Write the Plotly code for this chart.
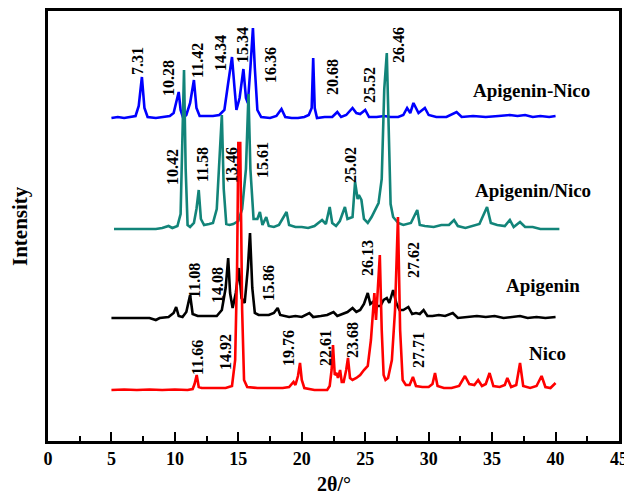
import plotly.graph_objects as go

# ---------------- data (2θ in degrees, intensity above each trace's own baseline) ----------------
nico_x = [5.0, 6.0, 7.0, 8.0, 9.0, 10.0, 11.0, 11.4, 11.55, 11.72, 11.88, 12.1, 13.0, 14.0, 14.5, 14.75, 14.9, 15.0,
          15.15, 15.3, 15.45, 15.7, 16.5, 17.5, 18.5, 19.0, 19.35, 19.5, 19.7, 19.86, 20.0, 20.2, 21.0, 22.0, 22.2,
          22.35, 22.46, 22.6, 22.75, 22.85, 23.02, 23.15, 23.3, 23.5, 23.64, 23.8, 24.0, 24.3, 24.6, 24.9, 25.2,
          25.45, 25.6, 25.72, 25.85, 25.95, 26.15, 26.3, 26.45, 26.6, 26.8, 27.1, 27.35, 27.58, 27.75, 27.95, 28.2,
          28.5, 28.76, 29.0, 29.5, 30.0, 30.3, 30.5, 30.7, 31.2, 31.8, 32.4, 32.86, 33.2, 33.6, 33.9, 34.2, 34.5,
          34.8, 35.1, 35.6, 36.0, 36.2, 36.5, 36.9, 37.2, 37.45, 38.0, 38.5, 38.9, 39.2, 39.6, 40.0]
nico_y = [0, 0.5, 0, 0.5, 0, 0.5, 0, 1, 6, 15, 3, 2, 2, 2, 4, 30, 120, 247,
          247, 80, 10, 3, 2, 2, 2, 3, 8, 5, 14, 27, 10, 2, 0, 0, 4,
          20, 45, 15, 17, 12, 20, 8, 8, 20, 32, 12, 10, 12, 15, 20, 24,
          50, 80, 97, 70, 90, 135, 60, 15, 10, 12, 30, 80, 173, 60, 10, 5,
          5, 13, 4, 3, 3, 6, 17, 4, 2, 2, 4, 14, 6, 5, 10, 4, 6,
          17, 4, 3, 5, 12, 3, 5, 27, 4, 2, 4, 14, 3, 2, 7]

apigenin_x = [5.0, 6.0, 7.0, 8.0, 8.5, 8.8, 9.5, 9.9, 10.1, 10.3, 10.6, 10.9, 11.2, 11.4, 11.8, 12.5, 13.3, 13.7,
              14.0, 14.2, 14.35, 14.55, 14.8, 15.05, 15.25, 15.5, 15.75, 15.92, 16.1, 16.3, 16.6, 17.0, 17.4, 17.8,
              18.1, 18.3, 19.0, 19.5, 20.0, 20.6, 20.9, 21.5, 22.0, 22.5, 22.8, 23.2, 23.6, 24.0, 24.3, 24.6, 24.9,
              25.2, 25.4, 25.6, 25.9, 26.2, 26.45, 26.7, 26.9, 27.2, 27.45, 27.7, 28.0, 28.4, 28.7, 29.0, 29.3, 29.6,
              29.9, 30.3, 30.8, 31.3, 31.9, 32.3, 33.0, 33.8, 34.5, 35.2, 35.9, 36.5, 37.2, 37.8, 38.5, 39.2, 40.0]
apigenin_y = [0, 0, 0.5, 0, -2, 0, 1, 5, 11, 2, 1, 6, 23, 4, 2, 2, 2, 8,
              30, 60, 25, 10, 25, 50, 20, 15, 50, 85, 30, 5, 3, 3, 3, 5,
              10, 3, 1, 2, 1, 5, 1, 2, 3, 6, 2, 4, 6, 10, 6, 8, 14,
              25, 14, 16, 12, 12, 18, 20, 15, 28, 15, 8, 8, 11, 4, 5, 4, 8,
              2, 2, 3, 2, 5, 0, 1, 2, 1, 2, 0, 1, 2, 0, 1, 0, 1]

mix_x = [5.2, 6.5, 7.5, 8.5, 9.0, 9.5, 9.8, 10.2, 10.45, 10.6, 10.72, 10.85, 11.0, 11.2, 11.5, 11.7, 11.88, 12.05,
         12.3, 12.7, 13.0, 13.3, 13.55, 13.7, 13.85, 14.05, 14.3, 14.6, 15.0, 15.3, 15.6, 15.8, 15.95, 16.2, 16.5,
         16.7, 16.9, 17.2, 17.4, 17.8, 18.2, 18.8, 19.0, 19.5, 20.0, 20.5, 21.0, 21.6, 21.9, 22.2, 22.4, 22.7,
         23.0, 23.4, 23.6, 24.0, 24.2, 24.4, 24.5, 24.7, 24.9, 25.2, 25.5, 25.8, 26.05, 26.3, 26.5, 26.7, 26.85,
         27.0, 27.2, 27.6, 28.0, 28.6, 29.1, 29.3, 29.7, 30.4, 31.0, 31.6, 32.0, 32.3, 32.9, 33.5, 34.0, 34.6,
         34.9, 35.4, 36.0, 36.4, 36.7, 37.2, 37.6, 38.2, 38.8, 39.5, 40.3]
mix_y = [0, 0, 0.5, 0, 1, 3, 1, 3, 15, 100, 159, 60, 4, 2, 6, 20, 39, 10,
         4, 5, 6, 20, 80, 114, 40, 5, 4, 5, 8, 20, 60, 135, 60, 10, 10,
         17, 4, 12, 3, 2, 4, 17, 4, 2, 2, 1, 3, 9, 5, 22, 6, 3,
         8, 22, 10, 12, 47, 30, 34, 29, 10, 6, 12, 19, 26, 50, 140, 176, 100,
         25, 12, 6, 4, 6, 19, 4, 3, 2, 4, 4, 9, 3, 1, 3, 5, 22,
         6, 4, 3, 9, 2, 7, 2, 2, 0, 0, 0]

cocrystal_x = [5.0, 5.5, 6.0, 6.5, 6.9, 7.15, 7.4, 7.6, 7.85, 8.5, 9.0, 9.6, 9.9, 10.1, 10.3, 10.45, 10.65, 10.9,
               11.2, 11.5, 11.7, 11.95, 12.5, 13.0, 13.5, 13.9, 14.2, 14.5, 14.7, 14.85, 15.1, 15.4, 15.6, 15.75,
               15.95, 16.15, 16.3, 16.5, 16.8, 17.5, 18.0, 18.4, 18.7, 19.2, 19.7, 20.2, 20.55, 20.78, 20.9, 21.02,
               21.2, 21.8, 22.4, 22.8, 23.1, 23.5, 24.0, 24.3, 24.6, 25.0, 25.3, 25.9, 26.5, 27.0, 27.6, 28.0, 28.3,
               28.55, 28.8, 29.2, 29.7, 30.0, 30.6, 31.4, 32.2, 32.6, 33.5, 34.5, 35.5, 36.4, 37.0, 37.6, 38.2, 38.8,
               39.5, 40.0]
cocrystal_y = [0, 1, 0, 1, 2, 12, 41, 10, 1, 0, 1, 2, 5, 15, 26, 8, 0, 3,
               15, 38, 10, 2, 2, 2, 3, 8, 35, 61, 30, 8, 20, 49, 20, 15,
               50, 90, 50, 8, 1, 0, 2, 9, 1, 0, 0, 1, 3, 10, 60, 10,
               0, 1, 1, 6, 1, 3, 10, 5, 4, 8, 1, 1, 2, 1, 1, 3, 10,
               5, 15, 5, 10, 3, 1, 1, 6, 1, 2, 1, 2, 3, 2, 3, 1, 2,
               1, 2]

series_names = ["Apigenin-Nico", "Apigenin", "Apigenin/Nico", "Nico"]
series_offsets = [323, 123, 212, 51]

# peak labels: (2θ position, height, text)
cocrystal_labels = [(7.01, 380, "7.31"), (9.46, 363, "10.28"), (11.74, 381, "11.42"), (13.55, 388, "14.34"),
                    (15.29, 396, "15.34"), (17.49, 376, "16.36"), (22.38, 364, "20.68"), (25.3, 356, "25.52"),
                    (27.58, 396, "26.46")]
mix_labels = [(9.77, 274, "10.42"), (12.14, 276, "11.58"), (14.42, 276, "13.46"), (16.86, 281, "15.61"),
              (23.8, 276, "25.02")]
apigenin_labels = [(11.5, 161, "11.08"), (13.32, 156, "14.08"), (17.34, 158, "15.86"), (25.14, 183, "26.13"),
                   (28.76, 181, "27.62")]
nico_labels = [(11.74, 84, "11.66"), (13.95, 89, "14.92"), (18.91, 93, "19.76"), (21.83, 93, "22.61"),
               (23.96, 101, "23.68"), (29.16, 91, "27.71")]
name_labels = [(38.14, 351, "Apigenin-Nico"), (38.22, 251, "Apigenin/Nico"), (39.0, 156, "Apigenin"),
               (39.4, 88, "Nico")]

x_ticks = [0, 5, 10, 15, 20, 25, 30, 35, 40, 45]

# ---------------- figure ----------------
FONT = "Liberation Serif, Times New Roman, serif"
fig = go.Figure()

traces = [
    (cocrystal_x, cocrystal_y, series_offsets[0], "#0000FF", series_names[0]),
    (apigenin_x, apigenin_y, series_offsets[1], "#000000", series_names[1]),
    (mix_x, mix_y, series_offsets[2], "#128479", series_names[2]),
    (nico_x, nico_y, series_offsets[3], "#FF0000", series_names[3]),
]
for xs, ys, off, col, nm in traces:
    fig.add_trace(go.Scatter(x=xs, y=[v + off for v in ys], mode="lines", name=nm,
                             line=dict(color=col, width=2.6), showlegend=False))

for lst in (cocrystal_labels, mix_labels, apigenin_labels, nico_labels):
    for x, y, t in lst:
        fig.add_annotation(x=x, y=y, text=t, textangle=-90, showarrow=False,
                           font=dict(family=FONT, size=16, color="black", weight="bold"))
for x, y, t in name_labels:
    fig.add_annotation(x=x, y=y, text=t, showarrow=False,
                       font=dict(family=FONT, size=19, color="black", weight="bold"))

# axis titles
fig.add_annotation(xref="paper", yref="paper", x=0.5, y=0, yshift=-43, yanchor="middle", text="2θ/°",
                   showarrow=False, font=dict(family=FONT, size=20, color="black", weight="bold"))
fig.add_annotation(xref="paper", yref="paper", x=0, y=0.5, xshift=-28, xanchor="center", yanchor="middle",
                   text="Intensity", textangle=-90, showarrow=False,
                   font=dict(family=FONT, size=21, color="black", weight="bold"))

# page body keeps an 8px default margin, so the figure is 8px smaller and margins are compensated
fig.update_layout(
    width=624, height=492,
    margin=dict(l=40, r=13, t=3, b=59, autoexpand=False),
    paper_bgcolor="white", plot_bgcolor="white",
    xaxis=dict(range=[0, 45], tickvals=x_ticks, ticks="inside", ticklen=9, tickwidth=2, tickcolor="black",
               showline=True, linewidth=2.5, linecolor="black", mirror=True, showgrid=False, zeroline=False,
               automargin=False,
               minor=dict(dtick=2.5, ticks="inside", ticklen=5, tickwidth=2, tickcolor="black", showgrid=False),
               tickfont=dict(family=FONT, size=18, color="black", weight="bold")),
    yaxis=dict(range=[0, 430], showticklabels=False, ticks="", showline=True, linewidth=2.5, linecolor="black",
               mirror=True, showgrid=False, zeroline=False, automargin=False),
)

fig.write_html("out.html")
